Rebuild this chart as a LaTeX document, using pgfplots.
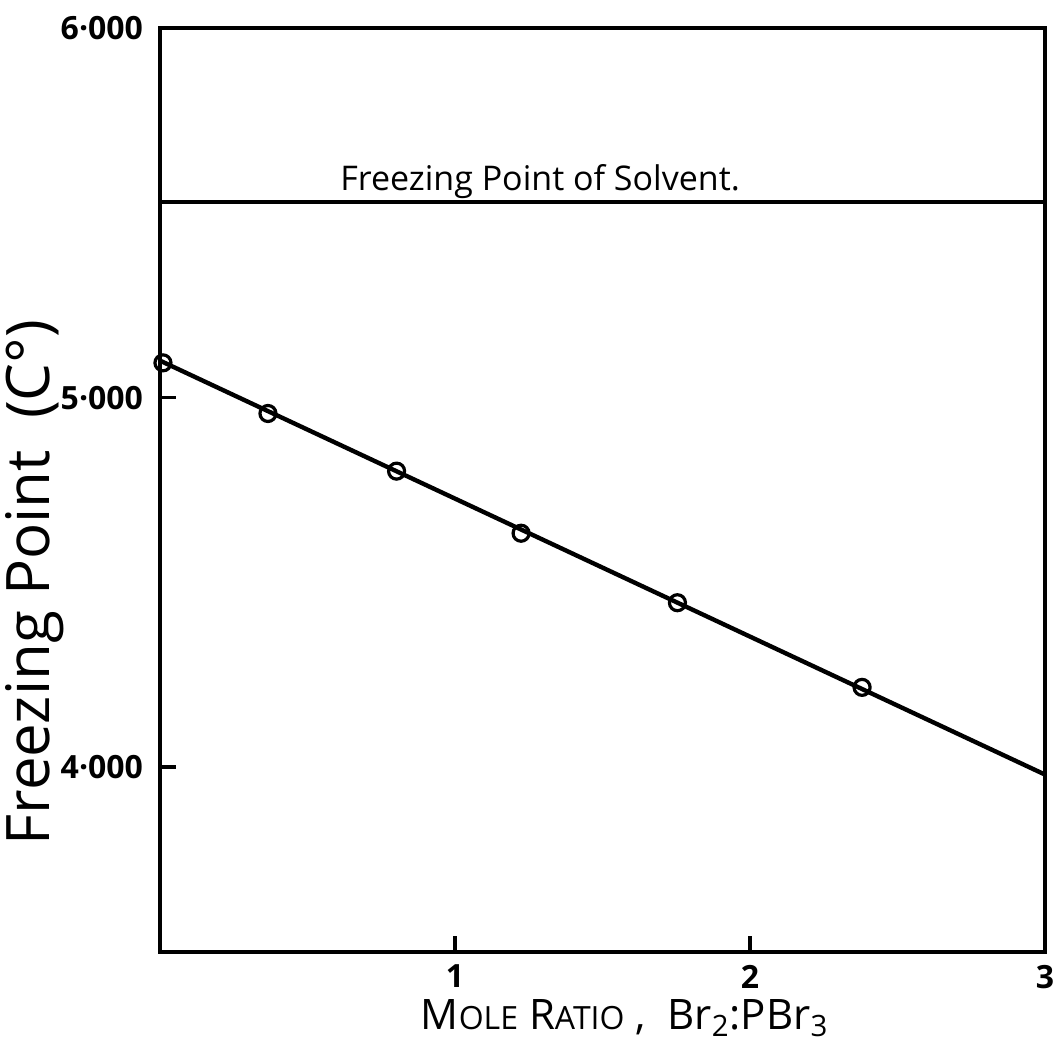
\documentclass[border=0pt]{standalone}
\usepackage{pgfplots}
\pgfplotsset{compat=1.18}
\usepackage{fontspec}
\setmainfont{Open Sans}
\begin{document}
\begin{tikzpicture}
\begin{axis}[
  name=ax,
  scale only axis,
  width=442.5pt, height=462pt,
  xmin=0, xmax=3, ymin=3.5, ymax=6,
  axis line style={line width=2pt},
  xtick={1,2,3}, xticklabels={1,2,3},
  ytick={4,5,6}, yticklabels={4·000,5·000,6·000},
  tick pos=left,
  tick align=inside,
  major tick length=8pt,
  tick style={line width=1.8pt, black},
  ticklabel style={font=\fontsize{16}{18}\selectfont\bfseries},
  xticklabel style={yshift=-3pt},
  yticklabel style={xshift=-5pt},
  xlabel={M{\fontsize{16}{19}\selectfont OLE} R{\fontsize{16}{19}\selectfont ATIO} ,\ \ Br\textsubscript{2}:PBr\textsubscript{3}},
  xlabel style={font=\fontsize{21}{25}\selectfont, at={(axis description cs:0.525,-0.047)}, anchor=north, inner sep=2pt},
  ylabel={Freezing Point\ \ (C°)},
  ylabel style={font=\fontsize{30}{34}\selectfont, at={(axis description cs:-0.142,0.40)}, anchor=center},
]
% freezing point of the pure solvent
\addplot[line width=2pt, no marks] coordinates {(0,5.53) (3,5.53)};
\node[anchor=south west, inner sep=1.5pt, font=\fontsize{17}{20}\selectfont] at (axis cs:0.6,5.53) {Freezing Point of Solvent.};
% fitted line
\addplot[line width=2.2pt, no marks] coordinates {(0,5.10) (3,3.98)};
% measured points
\addplot[only marks, mark=o, mark size=4pt, mark options={line width=1.6pt, fill=white}]
  coordinates {(0.01,5.094) (0.366,4.957) (0.802,4.801) (1.224,4.633) (1.754,4.445) (2.380,4.216)};
\end{axis}
\pgfresetboundingbox
\path ([xshift=-80pt,yshift=-45.5pt]ax.south west) rectangle ([xshift=5pt,yshift=14pt]ax.north east);
\end{tikzpicture}
\end{document}
